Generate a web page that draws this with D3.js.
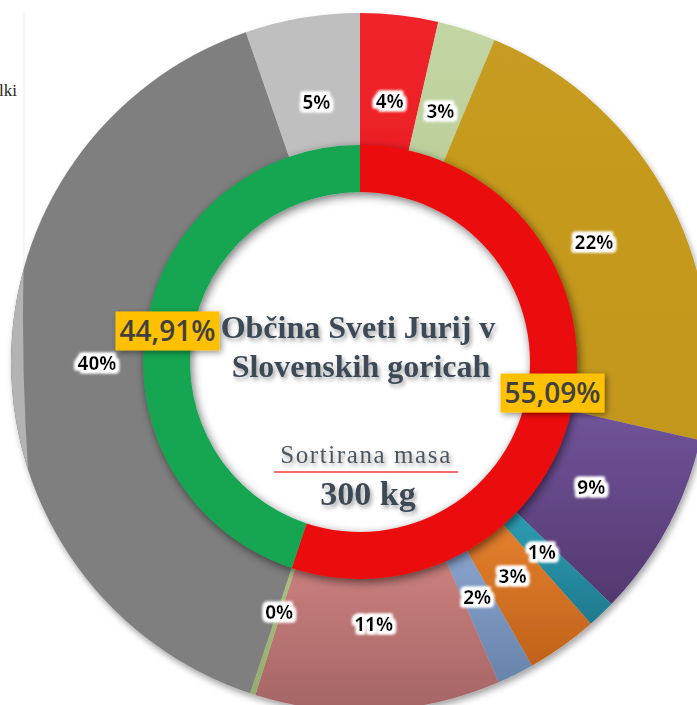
<!DOCTYPE html>
<html>
<head>
<meta charset="utf-8">
<script src="https://cdn.jsdelivr.net/npm/d3@7"></script>
<style>
  html, body { margin: 0; padding: 0; background: #fff; }
  #container { width: 697px; height: 705px; overflow: hidden; }
</style>
</head>
<body>
<div id="container"></div>
<script>
'use strict';
(function() {
    // data (outer ring, clockwise from 12 o'clock)
    var outerKeys = ['a', 'b', 'c', 'd', 'e', 'f', 'g', 'h', 'i', 'j', 'k'];
    var outerValues = [3.6, 2.7, 22.3, 8.6, 1.3, 3.3, 1.7, 11.35, 0.25, 39.6, 5.3];
    // inner ring
    var innerValues = [55.09, 44.91];
    var titleLines = ['Občina Sveti Jurij v', 'Slovenskih goricah'];
    var subTitle = 'Sortirana masa';
    var massLabel = '300 kg';

    // colours (top / bottom of each slice gradient)
    var outerTop = ['#f0242b', '#c3d5a2', '#c79c20', '#705499', '#2c9db3', '#e4802d', '#89a3cd', '#cb807e', '#a9c283', '#7f7f7f', '#bfbfbf'];
    var outerBottom = ['#ec1f26', '#bdd09c', '#c2971d', '#533870', '#1f7a8e', '#c0621b', '#6884ab', '#a56565', '#93ad6d', '#7f7f7f', '#bfbfbf'];
    var innerColors = ['#eb0b0b', '#12a651'];

    var width = 697, height = 705;
    var cx = 360, cy = 362;

    var svg = d3.select('#container').append('svg')
        .attr('width', width)
        .attr('height', height);

    var defs = svg.append('defs');

    outerKeys.forEach(function(k, i) {
        var g = defs.append('linearGradient')
            .attr('id', 'grad-' + k)
            .attr('x1', 0).attr('y1', 0).attr('x2', 0).attr('y2', 1);
        g.append('stop').attr('offset', '0%').attr('stop-color', outerTop[i]);
        g.append('stop').attr('offset', '100%').attr('stop-color', outerBottom[i]);
    });

    function shadow(id, dx, dy, sd, op) {
        var f = defs.append('filter').attr('id', id)
            .attr('x', '-20%').attr('y', '-20%').attr('width', '140%').attr('height', '140%');
        f.append('feDropShadow')
            .attr('dx', dx).attr('dy', dy)
            .attr('stdDeviation', sd)
            .attr('flood-color', '#000')
            .attr('flood-opacity', op);
    }
    shadow('ringShadow', 2, 3, 5, 0.55);
    shadow('outerShadow', 2, 4, 3, 0.35);
    shadow('textShadow', 2, 3, 2, 0.35);
    shadow('boxShadow', 2, 2, 3, 0.45);

    // white glow behind the small percent labels
    var glow = defs.append('filter').attr('id', 'glow')
        .attr('x', '-40%').attr('y', '-40%').attr('width', '180%').attr('height', '180%');
    glow.append('feMorphology').attr('in', 'SourceAlpha').attr('operator', 'dilate').attr('radius', 2.5).attr('result', 'd');
    glow.append('feGaussianBlur').attr('in', 'd').attr('stdDeviation', 1.6).attr('result', 'b');
    glow.append('feFlood').attr('flood-color', '#fff');
    glow.append('feComposite').attr('in2', 'b').attr('operator', 'in').attr('result', 'g');
    var fm = glow.append('feMerge');
    fm.append('feMergeNode').attr('in', 'g');
    fm.append('feMergeNode').attr('in', 'g');
    fm.append('feMergeNode').attr('in', 'SourceGraphic');

    // faint frame of the cut-off legend at the left
    svg.append('line')
        .attr('x1', 24).attr('x2', 24).attr('y1', 12).attr('y2', 300)
        .attr('stroke', '#efefef').attr('stroke-width', 1);
    svg.append('text')
        .attr('x', -1).attr('y', 96)
        .style('font-family', '"Liberation Serif", serif')
        .style('font-size', '17px')
        .attr('fill', '#222')
        .text('lki');

    var pie = d3.pie().sort(null).value(function(d) { return d; });

    var outerArc = d3.arc().innerRadius(216).outerRadius(349);
    var labelArc = d3.arc().innerRadius(263).outerRadius(263);
    var innerArc = d3.arc().innerRadius(170).outerRadius(217);
    var boxArc = d3.arc().innerRadius(195).outerRadius(195);

    var outerData = pie(outerValues);
    var innerData = pie(innerValues);

    var chart = svg.append('g').attr('transform', 'translate(' + cx + ',' + cy + ')');

    var outerG = chart.append('g').attr('filter', 'url(#outerShadow)');
    outerG.selectAll('path.outer')
        .data(outerData)
        .enter().append('path')
        .attr('class', 'outer')
        .attr('d', outerArc)
        .attr('fill', function(d, i) { return 'url(#grad-' + outerKeys[i] + ')'; });

    // light bevel on the left rim of the big grey slice (ring minus a huge circle)
    var grey = outerData[9];
    defs.append('clipPath').attr('id', 'greyClip')
        .append('path').attr('d', outerArc(grey));
    var R = 349, Rb = 2178, bx = Rb - 337, by = -42;
    chart.append('path')
        .attr('clip-path', 'url(#greyClip)')
        .attr('fill-rule', 'evenodd')
        .attr('fill', '#b3b3b3')
        .attr('d', 'M' + (-R) + ',0a' + R + ',' + R + ' 0 1,0 ' + (2 * R) + ',0a' + R + ',' + R + ' 0 1,0 ' + (-2 * R) + ',0Z' +
            'M' + (bx - Rb) + ',' + by + 'a' + Rb + ',' + Rb + ' 0 1,0 ' + (2 * Rb) + ',0a' + Rb + ',' + Rb + ' 0 1,0 ' + (-2 * Rb) + ',0Z');

    // white hole
    chart.append('circle').attr('r', 171).attr('fill', '#fff');

    var innerG = chart.append('g').attr('filter', 'url(#ringShadow)');
    innerG.selectAll('path.inner')
        .data(innerData)
        .enter().append('path')
        .attr('class', 'inner')
        .attr('d', innerArc)
        .attr('fill', function(d, i) { return innerColors[i]; });

    // percent labels of the outer ring
    chart.selectAll('text.pct')
        .data(outerData)
        .enter().append('text')
        .attr('class', 'pct')
        .attr('transform', function(d) { return 'translate(' + labelArc.centroid(d) + ')'; })
        .attr('text-anchor', 'middle')
        .attr('dy', '0.36em')
        .attr('filter', 'url(#glow)')
        .style('font-family', '"Open Sans", sans-serif')
        .style('font-weight', '700')
        .style('font-size', '19px')
        .attr('fill', '#000')
        .text(function(d) { return Math.round(d.data) + '%'; });

    // yellow boxes of the inner ring
    var boxes = chart.selectAll('g.box')
        .data(innerData)
        .enter().append('g')
        .attr('class', 'box')
        .attr('transform', function(d) { return 'translate(' + boxArc.centroid(d) + ')'; });
    boxes.append('rect')
        .attr('x', -52).attr('y', -19.5)
        .attr('width', 104).attr('height', 39)
        .attr('fill', '#ffc000')
        .attr('filter', 'url(#boxShadow)');
    boxes.append('text')
        .attr('text-anchor', 'middle')
        .attr('dy', '0.36em')
        .style('font-family', '"Open Sans", sans-serif')
        .style('font-weight', '600')
        .style('font-size', '28px')
        .attr('fill', '#404040')
        .text(function(d) { return d.data.toFixed(2).replace('.', ',') + '%'; });

    // centre text
    var center = svg.append('g')
        .attr('filter', 'url(#textShadow)')
        .style('font-family', '"Liberation Serif", "Times New Roman", serif')
        .attr('fill', '#3d4955');
    center.selectAll('text.title')
        .data(titleLines)
        .enter().append('text')
        .attr('class', 'title')
        .attr('x', function(d, i) { return i === 0 ? 358 : 361; })
        .attr('y', function(d, i) { return 338 + i * 39; })
        .attr('text-anchor', 'middle')
        .style('font-weight', 'bold')
        .style('font-size', '32px')
        .text(function(d) { return d; });
    center.append('text')
        .attr('x', 366).attr('y', 463)
        .attr('text-anchor', 'middle')
        .style('font-size', '25px')
        .style('letter-spacing', '1.6px')
        .attr('fill', '#4b5661')
        .text(subTitle);
    center.append('text')
        .attr('x', 368).attr('y', 505)
        .attr('text-anchor', 'middle')
        .style('font-weight', 'bold')
        .style('font-size', '34px')
        .text(massLabel);
    svg.append('line')
        .attr('x1', 274).attr('x2', 458)
        .attr('y1', 472).attr('y2', 472)
        .attr('stroke', '#f56b6b')
        .attr('stroke-width', 2);
})();
</script>
</body>
</html>
